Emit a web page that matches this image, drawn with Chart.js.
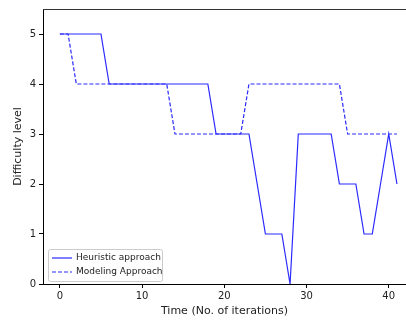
<!DOCTYPE html>
<html>
<head>
<meta charset="utf-8">
<script src="https://cdn.jsdelivr.net/npm/chart.js@4/dist/chart.umd.min.js"></script>
<style>
  html, body { margin: 0; padding: 0; background: #fff; overflow: hidden; }
  #wrap { width: 406px; height: 322px; }
</style>
</head>
<body>
<div id="wrap"><canvas id="diffChart" width="406" height="322"></canvas></div>
<script>
// iterations 0..41
const iterations = Array.from({ length: 42 }, (_, i) => i);
const heuristic = [5,5,5,5,5,5,4,4,4,4,4,4,4,4,4,4,4,4,4,3,3,3,3,3,2,1,1,1,0,3,3,3,3,3,2,2,2,1,1,2,3,2];
const modeling  = [5,5,4,4,4,4,4,4,4,4,4,4,4,4,3,3,3,3,3,3,3,3,3,4,4,4,4,4,4,4,4,4,4,4,4,3,3,3,3,3,3,3];
const xTicks = [0, 10, 20, 30, 40];
const yTicks = [0, 1, 2, 3, 4, 5];

const FONT = "'DejaVu Sans', sans-serif";

// frame + legend drawn inside the plot, matplotlib style
const framePlugin = {
  id: "frame",
  afterDraw(c) {
    const ctx = c.ctx, a = c.chartArea;
    ctx.save();
    ctx.strokeStyle = "#333";
    ctx.lineWidth = 1;
    ctx.beginPath();
    ctx.moveTo(a.left, a.top + 0.5);
    ctx.lineTo(a.right, a.top + 0.5);
    ctx.stroke();

    // legend box
    const bx = a.left + 5, by = a.bottom - 35, bw = 114, bh = 32;
    ctx.fillStyle = "rgba(255,255,255,0.85)";
    ctx.strokeStyle = "#cccccc";
    ctx.beginPath();
    ctx.roundRect(bx + 0.5, by + 0.5, bw, bh, 2);
    ctx.fill();
    ctx.stroke();
    ctx.font = "9px " + FONT;
    ctx.textBaseline = "middle";
    c.data.datasets.forEach((ds, i) => {
      const yy = by + 9 + i * 14;
      ctx.strokeStyle = ds.borderColor;
      ctx.lineWidth = ds.borderWidth;
      ctx.setLineDash(ds.borderDash || []);
      ctx.beginPath();
      ctx.moveTo(bx + 4, yy);
      ctx.lineTo(bx + 24, yy);
      ctx.stroke();
      ctx.setLineDash([]);
      ctx.fillStyle = "#222";
      ctx.fillText(ds.label, bx + 28, yy);
    });
    ctx.restore();
  }
};

new Chart(document.getElementById("diffChart"), {
  type: "line",
  data: {
    labels: iterations,
    datasets: [
      {
        label: "Heuristic approach",
        data: iterations.map((x, i) => ({ x: x, y: heuristic[i] })),
        borderColor: "#2a2aff",
        borderWidth: 1.2,
        pointRadius: 0,
        tension: 0
      },
      {
        label: "Modeling Approach",
        data: iterations.map((x, i) => ({ x: x, y: modeling[i] })),
        borderColor: "#2a2aff",
        borderWidth: 1.2,
        borderDash: [4, 2],
        pointRadius: 0,
        tension: 0
      }
    ]
  },
  options: {
    responsive: false,
    animation: false,
    layout: { padding: { top: 8, right: 0, left: 0, bottom: 0 } },
    plugins: { legend: { display: false }, tooltip: { enabled: false } },
    scales: {
      x: {
        type: "linear",
        min: -2.05,
        max: 42.1,
        afterBuildTicks: s => { s.ticks = xTicks.map(v => ({ value: v })); },
        afterFit: s => { s.height = 38; },
        grid: { drawOnChartArea: false, tickLength: 4, tickColor: "#000" },
        border: { color: "#000", width: 1 },
        ticks: { color: "#222", font: { family: FONT, size: 10 }, padding: 2, maxRotation: 0 },
        title: { display: true, text: "Time (No. of iterations)", color: "#222", font: { family: FONT, size: 11 }, padding: { top: 2, bottom: 4 } }
      },
      y: {
        min: 0,
        max: 5.5,
        afterBuildTicks: s => { s.ticks = yTicks.map(v => ({ value: v })); },
        afterFit: s => { s.width = 43; },
        grid: { drawOnChartArea: false, tickLength: 4, tickColor: "#000" },
        border: { color: "#000", width: 1 },
        ticks: { color: "#222", font: { family: FONT, size: 10 }, padding: 3 },
        title: { display: true, text: "Difficulty level", color: "#222", font: { family: FONT, size: 11 }, padding: { top: 12, bottom: 4 } }
      }
    }
  },
  plugins: [framePlugin]
});
</script>
</body>
</html>
